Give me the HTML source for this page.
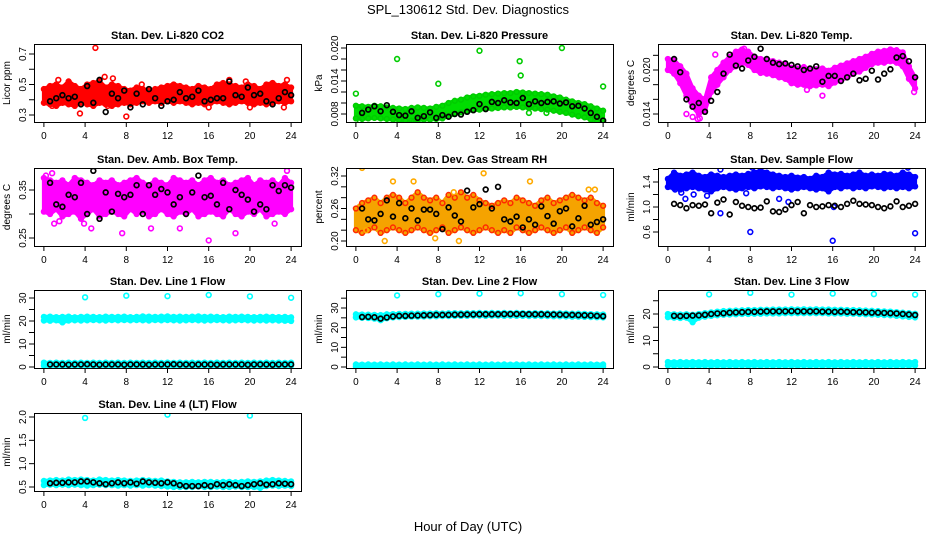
<!DOCTYPE html>
<html><head><meta charset="utf-8">
<style>
html,body{margin:0;padding:0;background:#fff;}
svg{display:block;font-family:"Liberation Sans",Arial,sans-serif;}
</style></head>
<body>
<svg id="chart" width="936" height="540" viewBox="0 0 936 540">
<text x="468" y="14" text-anchor="middle" font-size="13">SPL_130612  Std. Dev. Diagnostics</text>
<text x="468" y="531" text-anchor="middle" font-size="13">Hour of Day (UTC)</text>
</svg>
<script>
// ---- data (x of cloud arrays = index*0.6 h, black series = (index+1)*0.6 h) ----
const hourTicks=[0,4,8,12,16,20,24];
// Panel 1 CO2
const co2CloudHi=[0.47,0.49,0.5,0.48,0.52,0.49,0.47,0.5,0.51,0.52,0.48,0.5,0.49,0.47,0.46,0.48,0.47,0.46,0.47,0.48,0.49,0.5,0.49,0.48,0.47,0.49,0.48,0.47,0.5,0.51,0.5,0.49,0.48,0.5,0.49,0.47,0.5,0.51,0.49,0.5,0.48];
const co2CloudLo=[0.38,0.37,0.36,0.38,0.37,0.36,0.38,0.37,0.36,0.38,0.37,0.36,0.37,0.38,0.37,0.38,0.39,0.38,0.39,0.38,0.39,0.38,0.39,0.38,0.37,0.38,0.37,0.38,0.39,0.38,0.37,0.38,0.39,0.38,0.37,0.38,0.37,0.38,0.39,0.38,0.39];
const co2OutX=[5,3.5,8,1.4,5.9,6.7,18,23.6,0.8,16,20,23.3,6.2,9.5,19.6];
const co2OutY=[0.74,0.31,0.29,0.53,0.55,0.54,0.53,0.53,0.36,0.35,0.35,0.35,0.36,0.5,0.52];
const co2Black=[0.39,0.41,0.43,0.41,0.42,0.37,0.49,0.38,0.53,0.32,0.44,0.41,0.46,0.35,0.44,0.37,0.47,0.41,0.36,0.39,0.4,0.45,0.41,0.42,0.46,0.39,0.4,0.41,0.41,0.52,0.43,0.42,0.48,0.43,0.44,0.39,0.37,0.41,0.45,0.43];
const co2Ticks=[0.3,0.4,0.5,0.6,0.7], co2Labels=["0.3","","0.5","","0.7"];
// Panel 2 Pressure
const prCloudHi=[.0095,.0094,.0093,.0095,.0094,.0092,.0091,.0090,.0089,.0091,.0092,.0091,.0090,.0093,.0095,.0100,.0104,.0106,.0110,.0112,.0113,.0115,.0116,.0117,.0118,.0118,.0120,.0119,.0118,.0117,.0116,.0115,.0112,.0110,.0106,.0103,.0100,.0098,.0094,.0090,.0086];
const prCloudLo=[.0072,.0071,.0072,.0073,.0072,.0071,.0070,.0069,.0068,.0068,.0069,.0070,.0070,.0071,.0072,.0076,.0080,.0083,.0085,.0087,.0088,.0089,.0090,.0091,.0092,.0092,.0093,.0092,.0091,.0090,.0089,.0088,.0086,.0084,.0082,.0079,.0076,.0074,.0070,.0066,.0064];
const prOutX=[0,4,8,12,15.9,16,20,24,0.4,5.6,16.8,18.5];
const prOutY=[.0117,.0180,.0135,.0195,.0176,.0150,.0200,.0130,.0066,.0066,.0082,.0082];
const prBlack=[.0082,.0088,.0094,.0085,.0096,.0084,.0078,.0077,.0085,.0073,.0076,.0083,.0073,.0078,.0075,.0080,.0079,.0084,.0087,.0098,.0089,.0102,.0100,.0105,.0101,.0100,.0109,.0098,.0103,.0100,.0102,.0103,.0099,.0101,.0094,.0095,.0090,.0082,.0075,.0068];
const prTicks=[.008,.010,.012,.014,.016,.018,.020], prLabels=["0.008","","","0.014","","","0.020"];
// Panel 3 Li-820 Temp
const tmCloudHi=[.0215,.0213,.0205,.0195,.0175,.0165,.0160,.0190,.0200,.0210,.0218,.0225,.0228,.0225,.0218,.0215,.0214,.0212,.0210,.0208,.0203,.0202,.0204,.0200,.0201,.0202,.0199,.0203,.0206,.0209,.0212,.0215,.0218,.0222,.0225,.0226,.0228,.0227,.0224,.0205,.0190];
const tmCloudLo=[.0200,.0195,.0182,.0165,.0150,.0140,.0145,.0170,.0180,.0190,.0200,.0205,.0210,.0207,.0200,.0196,.0195,.0193,.0190,.0188,.0182,.0180,.0180,.0178,.0179,.0180,.0178,.0183,.0186,.0190,.0195,.0198,.0203,.0208,.0210,.0210,.0212,.0210,.0205,.0188,.0175];
const tmOutX=[1.8,2.4,2.9,3.1,4.6,7.4,15,13.5,23.9];
const tmOutY=[.0140,.0136,.0133,.0134,.0221,.0229,.0165,.0173,.0170];
const tmBlack=[.0215,.0197,.0160,.0150,.0155,.0143,.0158,.0170,.0195,.0221,.0206,.0202,.0213,.0218,.0229,.0215,.0210,.0208,.0209,.0207,.0205,.0200,.0202,.0205,.0184,.0192,.0192,.0185,.0190,.0195,.0186,.0188,.0199,.0187,.0195,.0201,.0217,.0219,.0212,.0190];
const tmTicks=[.014,.016,.018,.020,.022], tmLabels=["0.014","","","0.020",""];
// Panel 4 Amb Box Temp
const abCloudHi=[0.375,0.37,0.365,0.37,0.36,0.375,0.37,0.365,0.36,0.37,0.365,0.37,0.36,0.365,0.37,0.375,0.365,0.36,0.37,0.365,0.36,0.375,0.37,0.365,0.37,0.36,0.37,0.375,0.365,0.37,0.36,0.365,0.37,0.375,0.36,0.37,0.365,0.37,0.36,0.375,0.365];
const abCloudLo=[0.305,0.30,0.31,0.295,0.30,0.305,0.29,0.30,0.31,0.295,0.30,0.305,0.30,0.295,0.31,0.30,0.305,0.295,0.30,0.31,0.30,0.295,0.305,0.30,0.31,0.295,0.30,0.305,0.30,0.295,0.31,0.30,0.295,0.305,0.30,0.31,0.295,0.30,0.305,0.30,0.31];
const abOutX=[0.2,0.8,1,1.5,3.9,4.6,7.6,10.4,13.2,16,18.6,22.4,23.6];
const abOutY=[0.38,0.385,0.28,0.285,0.28,0.27,0.26,0.27,0.27,0.245,0.26,0.28,0.39];
const abBlack=[0.365,0.32,0.315,0.34,0.335,0.365,0.3,0.39,0.29,0.345,0.305,0.342,0.335,0.34,0.36,0.3,0.36,0.34,0.352,0.345,0.32,0.335,0.3,0.345,0.38,0.335,0.338,0.32,0.365,0.31,0.35,0.34,0.33,0.305,0.32,0.31,0.36,0.348,0.36,0.355];
const abTicks=[0.25,0.30,0.35], abLabels=["0.25","","0.35"];
// Panel 5 Gas Stream RH
const rhCloudHi=[0.26,0.27,0.275,0.28,0.27,0.28,0.285,0.28,0.27,0.28,0.29,0.28,0.275,0.28,0.27,0.285,0.28,0.29,0.28,0.285,0.275,0.27,0.265,0.27,0.275,0.27,0.28,0.275,0.27,0.265,0.275,0.28,0.27,0.275,0.28,0.285,0.28,0.275,0.28,0.27,0.265];
const rhCloudLo=[0.22,0.215,0.22,0.225,0.215,0.22,0.225,0.22,0.215,0.22,0.225,0.22,0.215,0.22,0.225,0.215,0.22,0.225,0.22,0.215,0.22,0.225,0.22,0.215,0.22,0.215,0.225,0.22,0.215,0.22,0.225,0.22,0.215,0.22,0.225,0.215,0.22,0.225,0.22,0.215,0.225];
const rhOutX=[0.6,2.8,7.7,12.4,16.9,5.6,3.6,9.5,22.6,23.2,1,10];
const rhOutY=[0.335,0.2,0.205,0.325,0.31,0.31,0.31,0.29,0.295,0.295,0.22,0.2];
const rhBlack=[0.26,0.24,0.238,0.25,0.275,0.245,0.27,0.242,0.26,0.238,0.258,0.258,0.25,0.222,0.262,0.247,0.236,0.293,0.262,0.268,0.295,0.26,0.3,0.24,0.236,0.245,0.225,0.24,0.23,0.264,0.246,0.232,0.255,0.26,0.227,0.242,0.265,0.23,0.235,0.24];
const rhTicks=[0.20,0.22,0.24,0.26,0.28,0.30,0.32], rhLabels=["0.20","","","0.26","","","0.32"];
// Panel 6 Sample Flow
const sfCloudHi=[1.45,1.55,1.5,1.52,1.55,1.5,1.48,1.52,1.5,1.48,1.5,1.52,1.5,1.53,1.55,1.58,1.55,1.52,1.5,1.48,1.5,1.47,1.48,1.45,1.5,1.48,1.55,1.52,1.53,1.5,1.52,1.55,1.5,1.52,1.5,1.53,1.52,1.5,1.55,1.52,1.48];
const sfCloudLo=[1.32,1.3,1.28,1.3,1.32,1.3,1.28,1.25,1.3,1.32,1.3,1.28,1.3,1.32,1.3,1.33,1.32,1.3,1.32,1.3,1.28,1.3,1.32,1.3,1.28,1.3,1.25,1.32,1.3,1.33,1.3,1.32,1.3,1.33,1.32,1.3,1.32,1.3,1.32,1.3,1.33];
const sfOutX=[0.7,1.3,1.7,2.5,3.8,5.1,5.1,8,8.2,9,7.6,16,16.1,24,23.3,11.7,10.8];
const sfOutY=[1.28,1.23,1.13,1.2,1.18,0.9,1.6,0.6,1.63,1.63,1.22,0.46,1.0,0.58,1.63,1.08,1.13];
const sfBlack=[1.05,1.03,0.98,1.03,1.02,1.04,0.9,1.07,1.12,0.88,1.08,1.02,1.0,0.98,0.99,1.09,0.93,0.92,0.96,1.03,1.08,0.9,1.03,1.0,1.01,1.03,1.02,1.0,1.05,1.1,1.05,1.04,1.03,1.0,0.98,1.01,1.09,1.0,1.02,1.05];
const sfTicks=[0.6,0.8,1.0,1.2,1.4,1.6], sfLabels=["0.6","","1.0","","1.4",""];
// Panel 7 Line 1 Flow
const l1CloudHi=[21.8,21.9,21.7,21.8,21.9,21.6,21.8,21.9,21.8,21.7,21.9,21.8,21.8,21.9,21.7,21.8,22.0,21.9,21.8,21.9,22.0,21.8,21.9,21.8,21.9,22.0,21.8,21.9,21.8,21.7,21.9,21.8,21.9,21.8,21.7,21.8,21.9,21.8,21.7,21.8,21.6];
const l1CloudLo=[20.2,20.1,20.3,19.4,20.2,20.3,20.2,20.3,20.4,20.3,20.2,20.4,20.3,20.4,20.3,20.4,20.3,20.2,20.4,20.3,20.4,20.3,20.2,20.3,20.4,20.3,20.2,20.3,20.4,20.3,20.2,20.3,20.4,20.3,20.2,20.3,20.2,20.3,20.2,20.1,20.0];
const l1LowHi=[1.9,1.8,1.9,1.8,1.9,1.8,1.9,1.8,1.9,1.8,1.9,1.8,1.9,1.8,1.9,1.8,1.9,1.8,1.9,1.8,1.9,1.8,1.9,1.8,1.9,1.8,1.9,1.8,1.9,1.8,1.9,1.8,1.9,1.8,1.9,1.8,1.9,1.8,1.9,1.8,1.9];
const l1LowLo=[0.6,0.5,0.6,0.5,0.6,0.5,0.6,0.5,0.6,0.5,0.6,0.5,0.6,0.5,0.6,0.5,0.6,0.5,0.6,0.5,0.6,0.5,0.6,0.5,0.6,0.5,0.6,0.5,0.6,0.5,0.6,0.5,0.6,0.5,0.6,0.5,0.6,0.5,0.6,0.5,0.6];
const l1OutX=[4,8,12,16,20,24], l1OutY=[30.3,31.0,30.8,31.3,30.7,30.1];
const l1Black=[1.1,1.1,1.1,1.0,1.1,1.1,1.2,1.1,1.0,1.1,1.1,1.1,1.0,1.1,1.1,1.1,1.0,1.1,1.1,1.1,1.2,1.1,1.1,1.0,1.1,1.1,1.1,1.0,1.1,1.1,1.1,1.1,1.0,1.1,1.1,1.1,1.0,1.1,1.1,1.1];
const l1Ticks=[0,5,10,15,20,25,30], l1Labels=["0","","10","","20","","30"];
// Panel 8 Line 2 Flow
const l2CloudHi=[26.8,26.7,26.6,26.5,26.4,26.8,26.9,27.0,27.0,27.1,27.1,27.2,27.2,27.3,27.2,27.3,27.4,27.3,27.4,27.4,27.5,27.4,27.5,27.4,27.5,27.4,27.5,27.4,27.3,27.4,27.3,27.3,27.2,27.3,27.2,27.1,27.1,27.0,26.9,26.8,26.7];
const l2CloudLo=[25.2,25.0,24.9,24.6,23.8,24.8,25.2,25.4,25.5,25.6,25.6,25.7,25.8,25.8,25.9,25.9,26.0,26.0,26.0,26.1,26.1,26.0,26.1,26.1,26.0,26.1,26.0,26.0,25.9,26.0,25.9,25.9,25.8,25.8,25.7,25.6,25.6,25.5,25.4,25.3,25.2];
const l2LowHi=[1.3,1.2,1.3,1.2,1.3,1.2,1.3,1.2,1.3,1.2,1.3,1.2,1.3,1.2,1.3,1.2,1.3,1.2,1.3,1.2,1.3,1.2,1.3,1.2,1.3,1.2,1.3,1.2,1.3,1.2,1.3,1.2,1.3,1.2,1.3,1.2,1.3,1.2,1.3,1.2,1.3];
const l2LowLo=[0.2,0.3,0.2,0.3,0.2,0.3,0.2,0.3,0.2,0.3,0.2,0.3,0.2,0.3,0.2,0.3,0.2,0.3,0.2,0.3,0.2,0.3,0.2,0.3,0.2,0.3,0.2,0.3,0.2,0.3,0.2,0.3,0.2,0.3,0.2,0.3,0.2,0.3,0.2,0.3,0.2];
const l2OutX=[4,8,12,16,20,24], l2OutY=[36.4,37.0,37.3,37.5,37.0,36.6];
const l2Black=[25.4,25.5,25.3,24.6,25.2,25.7,26.0,26.0,26.1,26.2,26.3,26.4,26.5,26.5,26.5,26.6,26.6,26.7,26.7,26.8,26.8,26.8,26.8,26.9,26.9,26.9,26.9,26.8,26.8,26.8,26.7,26.7,26.6,26.5,26.5,26.4,26.3,26.2,26.0,25.8];
const l2Ticks=[0,5,10,15,20,25,30,35], l2Labels=["0","","10","","20","","30",""];
// Panel 9 Line 3 Flow
const l3CloudHi=[20.0,19.9,19.8,19.9,19.7,20.0,20.3,20.6,20.9,21.1,21.2,21.3,21.4,21.5,21.5,21.6,21.6,21.7,21.7,21.7,21.8,21.7,21.8,21.7,21.8,21.7,21.7,21.6,21.6,21.5,21.5,21.4,21.3,21.2,21.1,21.0,20.9,20.7,20.5,20.3,20.1];
const l3CloudLo=[18.8,18.6,18.5,18.6,16.9,18.6,19.0,19.3,19.5,19.7,19.8,19.9,20.0,20.0,20.1,20.1,20.2,20.2,20.2,20.3,20.3,20.3,20.3,20.3,20.3,20.3,20.2,20.2,20.2,20.1,20.1,20.0,19.9,19.8,19.7,19.6,19.5,19.3,19.1,18.9,18.7];
const l3LowHi=[1.9,1.8,1.9,1.8,1.9,1.8,1.9,1.8,1.9,1.8,1.9,1.8,1.9,1.8,1.9,1.8,1.9,1.8,1.9,1.8,1.9,1.8,1.9,1.8,1.9,1.8,1.9,1.8,1.9,1.8,1.9,1.8,1.9,1.8,1.9,1.8,1.9,1.8,1.9,1.8,1.9];
const l3LowLo=[0.6,0.5,0.6,0.5,0.6,0.5,0.6,0.5,0.6,0.5,0.6,0.5,0.6,0.5,0.6,0.5,0.6,0.5,0.6,0.5,0.6,0.5,0.6,0.5,0.6,0.5,0.6,0.5,0.6,0.5,0.6,0.5,0.6,0.5,0.6,0.5,0.6,0.5,0.6,0.5,0.6];
const l3OutX=[4,8,12,16,20,24], l3OutY=[27.4,28.0,27.3,27.7,27.5,27.3];
const l3Black=[19.3,19.2,19.3,19.4,19.5,19.7,20.0,20.2,20.3,20.5,20.6,20.7,20.8,20.8,20.9,21.0,21.0,21.0,21.0,21.1,21.0,21.0,21.0,21.0,20.9,20.9,20.8,20.9,20.8,20.7,20.7,20.6,20.5,20.5,20.4,20.3,20.2,20.0,19.8,19.6];
const l3Ticks=[0,5,10,15,20,25], l3Labels=["0","","10","","20",""];
// Panel 10 Line 4 (LT) Flow
const l4CloudHi=[0.63,0.64,0.65,0.64,0.66,0.65,0.66,0.65,0.64,0.66,0.65,0.64,0.65,0.64,0.63,0.64,0.65,0.64,0.63,0.64,0.62,0.61,0.6,0.6,0.61,0.6,0.61,0.61,0.6,0.61,0.61,0.6,0.61,0.62,0.61,0.62,0.64,0.65,0.64,0.63,0.62];
const l4CloudLo=[0.54,0.55,0.54,0.55,0.54,0.55,0.54,0.53,0.54,0.55,0.54,0.54,0.53,0.54,0.53,0.54,0.53,0.54,0.53,0.52,0.51,0.5,0.5,0.5,0.5,0.51,0.5,0.5,0.51,0.5,0.5,0.51,0.5,0.5,0.5,0.48,0.52,0.53,0.52,0.53,0.52];
const l4OutX=[4,12,20], l4OutY=[1.98,2.05,2.03];
const l4Black=[0.58,0.59,0.59,0.6,0.6,0.62,0.62,0.6,0.58,0.56,0.58,0.6,0.58,0.6,0.57,0.62,0.6,0.59,0.58,0.6,0.58,0.54,0.52,0.52,0.52,0.54,0.52,0.56,0.54,0.56,0.54,0.52,0.54,0.56,0.58,0.55,0.56,0.58,0.57,0.56];
const l4Ticks=[0.5,1.0,1.5,2.0], l4Labels=["0.5","1.0","1.5","2.0"];

const NS="http://www.w3.org/2000/svg";
const svg=document.getElementById('chart');
function mk(tag,attrs,parent){const e=document.createElementNS(NS,tag);for(const k in attrs)e.setAttribute(k,attrs[k]);(parent||svg).appendChild(e);return e;}

function panel(col,row,title,ylab,v0,p0,v1,p1,ticks,labels,clouds,outX,outY,outCol,black){
  const L=34+col*312, W=267, T=[44,168,290,413][row], H=78;
  const g=mk('g',{});
  
  
  const xs=h=>L+W*(h+0.96)/25.92;
  const ys=v=>p0+(v-v0)*(p1-p0)/(v1-v0);
  const clipId='clip'+col+'_'+row;
  const cp=mk('clipPath',{id:clipId},g); mk('rect',{x:L,y:T,width:W,height:H},cp);
  const plot=mk('g',{'clip-path':'url(#'+clipId+')'},g);
  clouds.forEach(c=>{
    let pts=c.hi.map((v,i)=>xs(i*0.6).toFixed(1)+','+ys(v).toFixed(1));
    for(let i=c.lo.length-1;i>=0;i--)pts.push(xs(i*0.6).toFixed(1)+','+ys(c.lo[i]).toFixed(1));
    const band=mk('polygon',{points:pts.join(' '),fill:c.fill,stroke:c.fill,'stroke-width':4,'stroke-linejoin':'round'},plot);
    
    
    [c.hi,c.lo].forEach(arr=>arr.forEach((v,i)=>{
      const p=mk('circle',{cx:xs(i*0.6),cy:ys(v),r:2.4,fill:'none',stroke:c.col,'stroke-width':1.5},plot);
      
      
    }));
  });
  outX.forEach((h,i)=>{
    const p=mk('circle',{cx:xs(h),cy:ys(outY[i]),r:2.4,fill:'none',stroke:outCol,'stroke-width':1.6},plot);
    
    
  });
  black.forEach((v,i)=>{
    const p=mk('circle',{cx:xs((i+1)*0.6),cy:ys(v),r:2.4,fill:'none',stroke:'#000','stroke-width':1.7},plot);
    
    
  });
  const box=mk('rect',{x:L+0.5,y:T+0.5,width:W,height:H,fill:'none',stroke:'#000','stroke-width':1},g);
  
  
  const tt=mk('text',{x:L+W/2,y:T-5,'text-anchor':'middle','font-size':11,'font-weight':'bold'},g);
  tt.textContent=title;
  
  
  // x axis
  hourTicks.forEach(h=>{
    const x=xs(h);
    mk('line',{x1:x,x2:x,y1:T+H,y2:T+H+5,stroke:'#000'},g);
    const t=mk('text',{x:x,y:T+H+17,'text-anchor':'middle','font-size':10},g);
    t.textContent=h;
    
    
  });
  mk('line',{x1:xs(0),x2:xs(24),y1:T+H+0.5,y2:T+H+0.5,stroke:'#000'},g);
  // y axis
  ticks.forEach((v,i)=>{
    const y=ys(v);
    mk('line',{x1:L-5,x2:L,y1:y,y2:y,stroke:'#000'},g);
    if(labels[i]){
      const t=mk('text',{x:0,y:0,'text-anchor':'middle','font-size':10,transform:'translate('+(L-8)+','+y+') rotate(-90)'},g);
      t.textContent=labels[i];
      
      
    }
  });
  const yl=mk('text',{x:0,y:0,'text-anchor':'middle','font-size':10,transform:'translate('+(L-24)+','+(T+H/2)+') rotate(-90)'},g);
  yl.textContent=ylab;
  
  
}

panel(0,0,'Stan. Dev. Li-820 CO2','Licor ppm',0.3,115,0.7,54,co2Ticks,co2Labels,[{hi:co2CloudHi,lo:co2CloudLo,fill:'#ff0000',col:'#ff0000'}],co2OutX,co2OutY,'#ff0000',co2Black);
panel(1,0,'Stan. Dev. Li-820 Pressure','kPa',0.008,114,0.020,48,prTicks,prLabels,[{hi:prCloudHi,lo:prCloudLo,fill:'#00dd00',col:'#00cc00'}],prOutX,prOutY,'#00cc00',prBlack);
panel(2,0,'Stan. Dev. Li-820 Temp.','degrees C',0.014,114,0.020,70,tmTicks,tmLabels,[{hi:tmCloudHi,lo:tmCloudLo,fill:'#ff00ff',col:'#ff00ff'}],tmOutX,tmOutY,'#ff00ff',tmBlack);
panel(0,1,'Stan. Dev. Amb. Box Temp.','degrees C',0.25,238,0.35,190,abTicks,abLabels,[{hi:abCloudHi,lo:abCloudLo,fill:'#ff00ff',col:'#ff00ff'}],abOutX,abOutY,'#ff00ff',abBlack);
panel(1,1,'Stan. Dev. Gas Stream RH','percent',0.20,241,0.32,176,rhTicks,rhLabels,[{hi:rhCloudHi,lo:rhCloudLo,fill:'#f5a300',col:'#ff2a00'}],rhOutX,rhOutY,'#ffaa00',rhBlack);
panel(2,1,'Stan. Dev. Sample Flow','ml/min',0.6,232,1.4,182,sfTicks,sfLabels,[{hi:sfCloudHi,lo:sfCloudLo,fill:'#0000ff',col:'#0000ff'}],sfOutX,sfOutY,'#0000ff',sfBlack);
panel(0,2,'Stan. Dev. Line 1 Flow','ml/min',0,367,30,298,l1Ticks,l1Labels,[{hi:l1CloudHi,lo:l1CloudLo,fill:'#00ffff',col:'#00ffff'},{hi:l1LowHi,lo:l1LowLo,fill:'#00ffff',col:'#00ffff'}],l1OutX,l1OutY,'#00ffff',l1Black);
panel(1,2,'Stan. Dev. Line 2 Flow','ml/min',0,367,30,308,l2Ticks,l2Labels,[{hi:l2CloudHi,lo:l2CloudLo,fill:'#00ffff',col:'#00ffff'},{hi:l2LowHi,lo:l2LowLo,fill:'#00ffff',col:'#00ffff'}],l2OutX,l2OutY,'#00ffff',l2Black);
panel(2,2,'Stan. Dev. Line 3 Flow','ml/min',0,367,20,314,l3Ticks,l3Labels,[{hi:l3CloudHi,lo:l3CloudLo,fill:'#00ffff',col:'#00ffff'},{hi:l3LowHi,lo:l3LowLo,fill:'#00ffff',col:'#00ffff'}],l3OutX,l3OutY,'#00ffff',l3Black);
panel(0,3,'Stan. Dev. Line 4 (LT) Flow','ml/min',0.5,487,2.0,417,l4Ticks,l4Labels,[{hi:l4CloudHi,lo:l4CloudLo,fill:'#00ffff',col:'#00ffff'}],l4OutX,l4OutY,'#00ffff',l4Black);
</script>
</body></html>
